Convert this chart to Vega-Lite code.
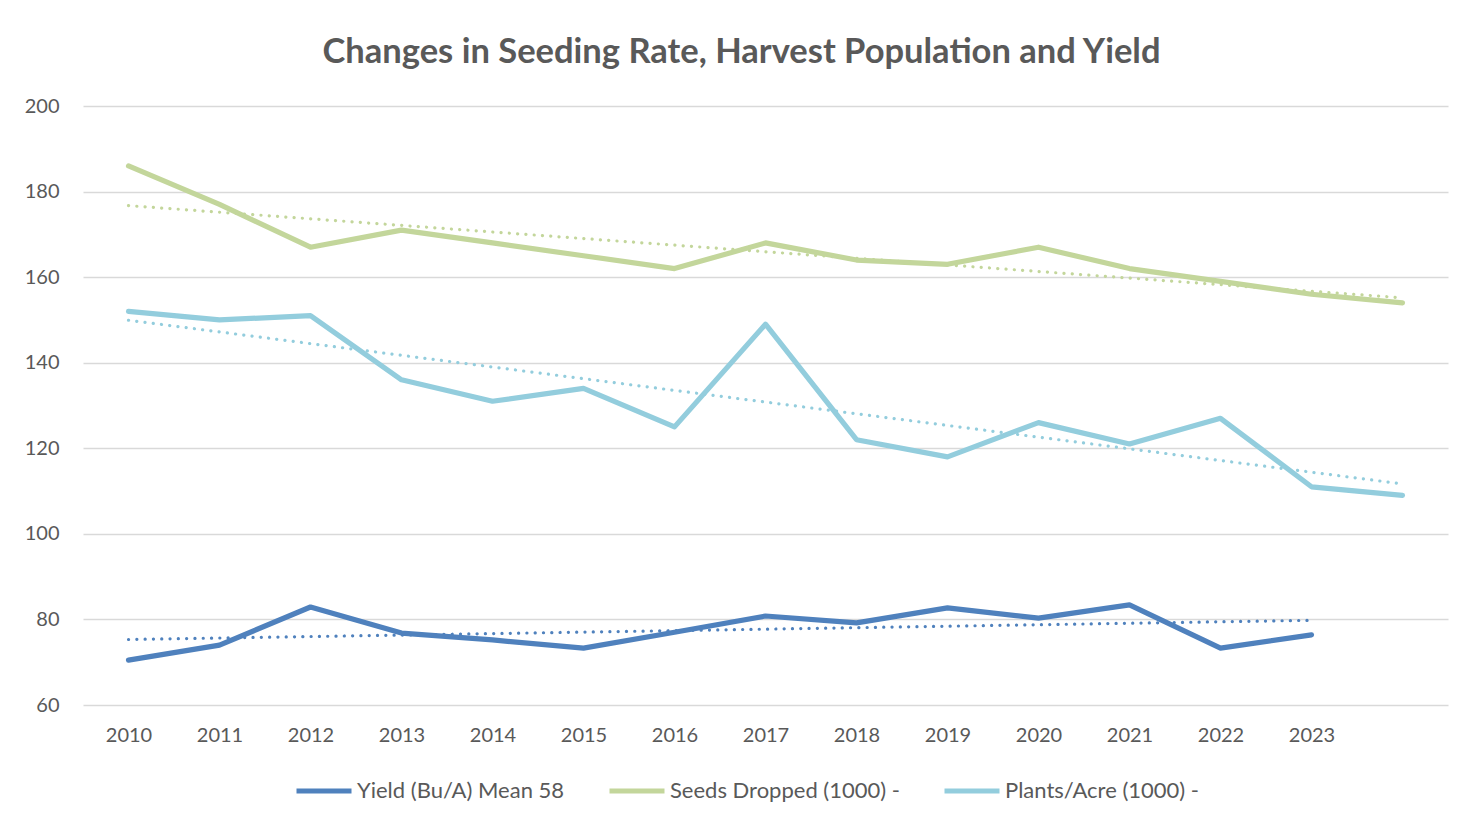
{
  "$schema": "https://vega.github.io/schema/vega-lite/v6.json",
  "autosize": "none",
  "width": 1365,
  "height": 599,
  "padding": {"left": 83, "top": 106, "right": 36, "bottom": 120},
  "background": "white",
  "title": {
    "text": "Changes in Seeding Rate, Harvest Population and Yield",
    "font": "Lato",
    "fontSize": 34.5,
    "fontWeight": "bold",
    "color": "#595959",
    "anchor": "middle",
    "dx": -24,
    "offset": 26
  },
  "config": {
    "view": {"stroke": null},
    "font": "Lato"
  },
  "data": {
    "values": [
      {"year": 2010, "series": "Yield (Bu/A) Mean 58", "value": 70.5},
      {"year": 2011, "series": "Yield (Bu/A) Mean 58", "value": 74.0},
      {"year": 2012, "series": "Yield (Bu/A) Mean 58", "value": 82.9},
      {"year": 2013, "series": "Yield (Bu/A) Mean 58", "value": 76.8},
      {"year": 2014, "series": "Yield (Bu/A) Mean 58", "value": 75.2},
      {"year": 2015, "series": "Yield (Bu/A) Mean 58", "value": 73.3},
      {"year": 2016, "series": "Yield (Bu/A) Mean 58", "value": 77.0},
      {"year": 2017, "series": "Yield (Bu/A) Mean 58", "value": 80.8},
      {"year": 2018, "series": "Yield (Bu/A) Mean 58", "value": 79.2},
      {"year": 2019, "series": "Yield (Bu/A) Mean 58", "value": 82.7},
      {"year": 2020, "series": "Yield (Bu/A) Mean 58", "value": 80.3},
      {"year": 2021, "series": "Yield (Bu/A) Mean 58", "value": 83.4},
      {"year": 2022, "series": "Yield (Bu/A) Mean 58", "value": 73.3},
      {"year": 2023, "series": "Yield (Bu/A) Mean 58", "value": 76.4},
      {"year": 2010, "series": "Seeds Dropped (1000) -", "value": 186},
      {"year": 2011, "series": "Seeds Dropped (1000) -", "value": 177},
      {"year": 2012, "series": "Seeds Dropped (1000) -", "value": 167},
      {"year": 2013, "series": "Seeds Dropped (1000) -", "value": 171},
      {"year": 2014, "series": "Seeds Dropped (1000) -", "value": 168},
      {"year": 2015, "series": "Seeds Dropped (1000) -", "value": 165},
      {"year": 2016, "series": "Seeds Dropped (1000) -", "value": 162},
      {"year": 2017, "series": "Seeds Dropped (1000) -", "value": 168},
      {"year": 2018, "series": "Seeds Dropped (1000) -", "value": 164},
      {"year": 2019, "series": "Seeds Dropped (1000) -", "value": 163},
      {"year": 2020, "series": "Seeds Dropped (1000) -", "value": 167},
      {"year": 2021, "series": "Seeds Dropped (1000) -", "value": 162},
      {"year": 2022, "series": "Seeds Dropped (1000) -", "value": 159},
      {"year": 2023, "series": "Seeds Dropped (1000) -", "value": 156},
      {"year": 2024, "series": "Seeds Dropped (1000) -", "value": 154},
      {"year": 2010, "series": "Plants/Acre (1000) -", "value": 152},
      {"year": 2011, "series": "Plants/Acre (1000) -", "value": 150},
      {"year": 2012, "series": "Plants/Acre (1000) -", "value": 151},
      {"year": 2013, "series": "Plants/Acre (1000) -", "value": 136},
      {"year": 2014, "series": "Plants/Acre (1000) -", "value": 131},
      {"year": 2015, "series": "Plants/Acre (1000) -", "value": 134},
      {"year": 2016, "series": "Plants/Acre (1000) -", "value": 125},
      {"year": 2017, "series": "Plants/Acre (1000) -", "value": 149},
      {"year": 2018, "series": "Plants/Acre (1000) -", "value": 122},
      {"year": 2019, "series": "Plants/Acre (1000) -", "value": 118},
      {"year": 2020, "series": "Plants/Acre (1000) -", "value": 126},
      {"year": 2021, "series": "Plants/Acre (1000) -", "value": 121},
      {"year": 2022, "series": "Plants/Acre (1000) -", "value": 127},
      {"year": 2023, "series": "Plants/Acre (1000) -", "value": 111},
      {"year": 2024, "series": "Plants/Acre (1000) -", "value": 109}
    ]
  },
  "encoding": {
    "x": {
      "field": "year",
      "type": "quantitative",
      "scale": {"domain": [2009.5, 2024.5], "nice": false, "zero": false},
      "axis": {
        "title": null,
        "values": [2010, 2011, 2012, 2013, 2014, 2015, 2016, 2017, 2018, 2019, 2020, 2021, 2022, 2023],
        "format": "d",
        "grid": false,
        "domain": false,
        "ticks": false,
        "tickSize": 0,
        "labelPadding": 20,
        "labelFont": "Lato",
        "labelFontSize": 20,
        "labelColor": "#595959",
        "labelFlush": false
      }
    },
    "y": {
      "field": "value",
      "type": "quantitative",
      "scale": {"domain": [60, 200], "nice": false, "zero": false},
      "axis": {
        "title": null,
        "values": [60, 80, 100, 120, 140, 160, 180, 200],
        "grid": true,
        "gridColor": "#d9d9d9",
        "gridWidth": 1.5,
        "domain": false,
        "ticks": false,
        "tickSize": 0,
        "labelPadding": 24,
        "labelFont": "Lato",
        "labelFontSize": 20,
        "labelColor": "#595959"
      }
    },
    "color": {
      "field": "series",
      "type": "nominal",
      "scale": {
        "domain": ["Yield (Bu/A) Mean 58", "Seeds Dropped (1000) -", "Plants/Acre (1000) -"],
        "range": ["#4f81bd", "#c3d69b", "#93cddd"]
      }
    }
  },
  "layer": [
    {
      "transform": [
        {"regression": "value", "on": "year", "groupby": ["series"], "method": "linear"}
      ],
      "mark": {"type": "line", "strokeWidth": 3.2, "strokeDash": [0.1, 8.2], "strokeCap": "round"},
      "encoding": {
        "color": {
          "field": "series",
          "type": "nominal",
          "legend": null
        }
      }
    },
    {
      "mark": {"type": "line", "strokeWidth": 5.2, "strokeCap": "round", "strokeJoin": "round"},
      "encoding": {
        "color": {
          "field": "series",
          "type": "nominal",
          "legend": {
            "title": null,
            "orient": "none",
            "direction": "horizontal",
            "legendX": 211,
            "legendY": 655,
            "symbolType": "stroke",
            "symbolSize": 3025,
            "symbolStrokeWidth": 5,
            "symbolDash": [],
            "labelFont": "Lato",
            "labelFontSize": 22,
            "labelLimit": 0,
            "labelColor": "#595959",
            "labelOffset": 3,
            "columnPadding": 34
          }
        }
      }
    }
  ],
  "resolve": {"legend": {"color": "independent"}}
}
